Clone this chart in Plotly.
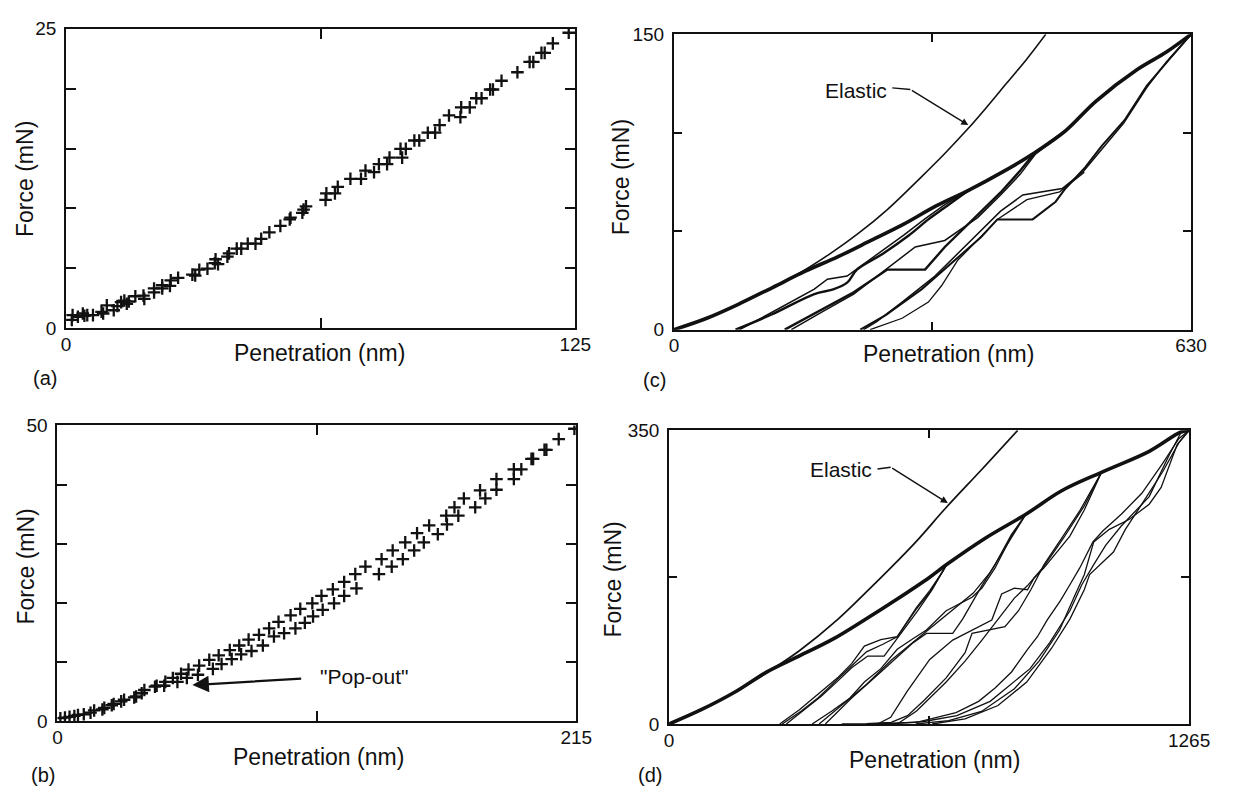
import plotly.graph_objects as go

W, H = 1237, 798

# ---------------- Panel (a) data ----------------
a_pen = [1.4,1.6,2.9,4.1,4.5,5.2,6.6,8.7,9.1,10.0,11.7,12.6,13.5,14.3,14.9,15.4,17.0,19.0,19.2,21.6,
         21.6,23.6,23.6,25.5,25.7,27.5,31.0,31.7,32.7,34.7,36.5,36.7,37.3,39.6,40.0,41.9,43.0,44.6,46.5,47.9,
         49.9,52.6,54.9,55.1,58.0,58.3,58.9,63.7,63.9,66.0,66.7,69.8,72.4,73.5,75.6,76.8,78.8,79.4,82.1,82.5,
         83.4,85.5,86.7,88.8,90.6,91.7,94.0,96.8,97.0,99.1,100.7,102.0,104.1,104.8,106.9,110.8,113.8,114.7,
         116.7,117.5,119.5,123.4]
a_force = [0.68,1.08,0.95,1.22,1.03,1.08,1.08,1.36,1.22,1.90,1.49,1.84,2.17,2.30,2.03,2.22,2.66,2.71,2.44,2.98,
           3.31,3.31,3.58,3.52,3.99,4.20,4.47,4.39,4.88,4.96,5.42,5.75,5.34,5.97,6.24,6.64,6.64,7.05,7.05,7.46,
           8.00,8.54,9.08,9.22,9.63,9.90,10.17,10.71,11.25,11.25,11.80,12.47,12.47,13.15,13.02,13.69,13.69,14.24,
           14.97,14.24,14.97,15.67,15.67,16.32,16.32,16.95,17.76,17.62,18.44,18.44,19.20,19.20,19.93,19.93,20.66,
           21.37,22.23,22.23,22.99,22.99,23.78,24.67]

# ---------------- Panel (b) data ----------------
b_pen = [1.2,3.1,5.0,7.0,8.5,10.9,13.7,15.2,18.6,19.4,22.5,23.3,26.4,27.6,31.8,32.6,34.9,36.0,40.4,41.1,
         44.2,44.7,47.8,49.7,51.2,53.6,54.3,58.2,58.7,62.9,64.4,66.8,68.0,71.4,72.2,75.3,76.1,79.2,80.4,83.5,
         85.1,87.7,89.7,91.6,93.9,96.6,98.6,100.6,102.5,105.6,105.9,109.4,109.9,114.1,114.6,118.8,118.8,123.4,
         123.9,127.6,133.2,134.3,138.5,138.9,143.1,144.1,147.8,149.0,151.8,154.0,157.6,161.1,161.4,164.5,166.1,
         168.4,173.1,175.1,177.3,181.9,181.9,189.1,189.1,192.2,196.4,197.1,201.8,202.6,207.7,214.2]
b_force = [0.55,0.66,0.77,0.93,1.10,1.21,1.48,1.86,2.03,2.30,2.74,2.96,3.40,3.67,4.06,4.22,4.77,5.32,5.87,6.03,
           6.03,6.69,7.35,6.69,8.06,7.35,8.77,7.89,9.43,10.42,8.88,11.18,9.70,12.06,10.53,12.83,11.35,13.82,11.90,
           14.64,12.83,15.73,14.36,16.83,14.91,17.93,15.73,19.02,16.67,19.96,17.76,21.22,18.86,22.31,19.96,23.57,
           21.22,24.89,22.48,26.15,24.89,27.41,26.15,28.89,27.41,30.26,28.89,31.80,30.26,33.11,31.63,34.76,33.28,
           36.18,34.76,37.67,36.18,39.04,37.67,40.95,39.14,42.60,40.95,42.60,44.35,44.35,45.89,45.89,47.70,49.45]

# ---------------- Panel (c) data ----------------
c_elastic_pen = [0, 40, 80, 120, 150, 190, 225, 260, 300, 330, 357, 380, 405, 430, 453]
c_elastic_force = [0, 5.8, 13.2, 21.4, 28, 38.5, 49, 61, 77, 89.5, 101.5, 112.5, 125, 137.5, 150]
c_load_pen = [0, 40, 80, 120, 160, 200, 240, 280, 320, 360, 400, 440, 477, 514, 564, 600, 630]
c_load_force = [0, 5.8, 13.2, 21.4, 29.7, 37.1, 45.3, 53.6, 63, 71, 80, 90, 101, 116, 132, 141, 150]
c_cyc1_load_pen = [75, 119, 171, 195, 211, 223, 255, 286, 310, 330, 360]
c_cyc1_load_force = [0, 7.7, 18.1, 20.6, 23.9, 30.5, 38.7, 47.8, 56, 62, 71]
c_cyc1_unload_pen = [360, 330, 305, 280, 250, 223, 211, 187, 171, 119, 80]
c_cyc1_unload_force = [71, 63.5, 56, 48, 39, 31, 27.2, 25.6, 20.6, 8.7, 0]
c_cyc2_load_pen = [135, 179, 219, 260, 306, 330, 370, 398, 422, 440, 477]
c_cyc2_load_force = [0, 9.9, 19, 30.5, 30.5, 42, 58.5, 69.7, 80.8, 90, 101]
c_cyc2_unload_pen = [477, 440, 422, 398, 370, 330, 294, 260, 219, 179, 143]
c_cyc2_unload_force = [101, 89, 79, 68.4, 56.9, 45.3, 42, 31.3, 18.1, 8.7, 0]
c_cyc3_load_pen = [227, 258, 302, 342, 374, 394, 437, 465, 477, 501, 521, 549, 576, 605, 630]
c_cyc3_load_force = [0, 7.4, 20.6, 35.4, 46.9, 56, 56, 65, 71.7, 82.4, 93.2, 106.4, 123.8, 138, 150]
c_cyc3_unload_pen = [630, 600, 576, 548, 520, 498, 473, 425, 398, 374, 350, 318, 278, 247, 231]
c_cyc3_unload_force = [150, 136, 123, 105, 91, 80, 71.7, 68.4, 60.2, 50.3, 40.4, 27.2, 14, 4.1, 0]
c_cyc3_reload_pen = [239, 278, 310, 326, 346, 358, 394, 430, 470, 500]
c_cyc3_reload_force = [0, 5.8, 14, 22.3, 35.4, 40.4, 56, 66, 70, 80]

# ---------------- Panel (d) data ----------------
d_elastic_pen = [0, 78, 158, 237, 316, 411, 506, 539, 602, 674, 760, 848]
d_elastic_force = [0, 17, 37.5, 61, 87, 125, 170, 186, 218, 258, 303, 350]
d_load_pen = [0, 78, 158, 237, 317, 396, 475, 555, 634, 675, 771, 868, 955, 1052, 1168, 1245, 1265]
d_load_force = [0, 17, 37.5, 61.9, 81.2, 100.5, 124, 149, 175, 190, 222, 250, 278, 300, 325, 348, 350]
d_cyc1_a_pen = [675, 666, 634, 602, 555, 515, 475, 444, 412, 356, 317, 269]
d_cyc1_a_force = [190, 182, 159, 139, 104, 100.6, 92.8, 72, 56, 33, 17, 0]
d_cyc1_b_pen = [285, 330, 370, 412, 444, 475, 483, 523, 547, 570, 605, 640, 668, 675]
d_cyc1_b_force = [0, 17, 33, 52, 67, 78, 81, 81, 97, 112, 135, 160, 183, 190]
d_cyc1_c_pen = [275, 320, 362, 412, 450, 480, 520, 555, 600, 634, 675]
d_cyc1_c_force = [0, 15, 31, 54, 71, 86, 95, 104, 136, 157, 190]
d_cyc2_a_pen = [348, 396, 440, 475, 515, 555, 594, 626, 674, 737, 761, 793, 833, 868]
d_cyc2_a_force = [0, 15.5, 31, 50, 66, 89, 102, 112, 135, 151, 162, 186, 224, 250]
d_cyc2_b_pen = [380, 444, 515, 560, 594, 626, 690, 714, 737, 761, 793, 833, 868]
d_cyc2_b_force = [0, 31, 62, 82, 97, 108, 108, 125, 145, 165, 190, 226, 250]
d_cyc2_c_pen = [365, 420, 480, 540, 600, 650, 700, 740, 780, 820, 850, 868]
d_cyc2_c_force = [0, 22, 47, 76, 100, 120, 140, 156, 180, 212, 236, 250]
d_cyc3_a_pen = [507, 539, 579, 634, 690, 737, 785, 809, 840, 872, 888, 912, 975, 1010, 1052]
d_cyc3_a_force = [0, 8, 39, 77, 100, 112, 124, 155, 162, 160, 174, 186, 224, 255, 300]
d_cyc3_b_pen = [420, 480, 540, 580, 620, 674, 720, 737, 817, 850, 880, 912, 960, 1000, 1052]
d_cyc3_b_force = [0, 0.5, 2, 10, 28, 55, 85, 108, 116, 135, 160, 190, 225, 255, 300]
d_cyc3_c_pen = [555, 602, 674, 720, 761, 800, 840, 872, 912, 960, 1010, 1052]
d_cyc3_c_force = [0, 15.5, 50, 75, 100, 125, 150, 165, 188, 222, 260, 300]
d_cyc4a_pen = [490, 560, 602, 698, 753, 793, 833, 872, 896, 920, 952, 975, 999, 1031, 1055, 1100, 1150, 1200, 1240, 1265]
d_cyc4a_force = [0, 1, 2, 13.5, 27, 43, 62, 89, 104, 124, 147, 166, 186, 217, 230, 250, 275, 310, 340, 350]
d_cyc4b_pen = [530, 620, 700, 781, 878, 926, 975, 1004, 1033, 1062, 1100, 1168, 1217, 1246, 1265]
d_cyc4b_force = [0, 3, 10, 27, 66, 97, 135, 166, 190, 213, 236, 271, 321, 348, 350]
d_cyc4c_pen = [600, 680, 760, 840, 900, 950, 984, 1010, 1033, 1071, 1120, 1168, 1197, 1236, 1265]
d_cyc4c_force = [0, 4, 15, 42, 75, 112, 150, 178, 217, 232, 244, 262, 282, 333, 350]
d_cyc4d_pen = [640, 720, 800, 870, 930, 975, 1010, 1023, 1081, 1110, 1150, 1200, 1240, 1265]
d_cyc4d_force = [0, 6, 22, 50, 90, 125, 160, 178, 205, 232, 262, 300, 335, 350]

# Axis extents and tick marks
a_xmax, a_ymax = 125, 25
b_xmax, b_ymax = 215, 50
c_xmax, c_ymax = 630, 150
d_xmax, d_ymax = 1265, 350
a_xticks, a_yticks = [0, 62.5, 125], [0, 5, 10, 15, 20, 25]
b_xticks, b_yticks = [0, 107.5, 215], [0, 10, 20, 30, 40, 50]
c_xticks, c_yticks = [0, 315, 630], [0, 50, 100, 150]
d_xticks, d_yticks = [0, 632.5, 1265], [0, 175, 350]

FONT = "Liberation Sans, Arial, Helvetica, sans-serif"
BLACK = "#111111"

fig = go.Figure()

def marks(x, y, xa, ya):
    fig.add_trace(go.Scatter(x=x, y=y, mode="markers", xaxis=xa, yaxis=ya,
                             marker=dict(symbol="cross-thin", size=9,
                                         line=dict(width=2.3, color=BLACK), color=BLACK),
                             hoverinfo="skip", showlegend=False))

def curve(x, y, xa, ya, w=1.2, shape="linear"):
    fig.add_trace(go.Scatter(x=x, y=y, mode="lines", xaxis=xa, yaxis=ya,
                             line=dict(width=w, color=BLACK, shape=shape),
                             hoverinfo="skip", showlegend=False))

marks(a_pen, a_force, "x", "y")
marks(b_pen, b_force, "x3", "y3")

curve(c_elastic_pen, c_elastic_force, "x2", "y2", 1.6, "spline")
curve(c_cyc1_load_pen, c_cyc1_load_force, "x2", "y2", 2.4, "spline")
curve(c_cyc1_unload_pen, c_cyc1_unload_force, "x2", "y2", 1.5)
curve(c_cyc2_load_pen, c_cyc2_load_force, "x2", "y2", 2.4)
curve(c_cyc2_unload_pen, c_cyc2_unload_force, "x2", "y2", 1.5)
curve(c_cyc3_load_pen, c_cyc3_load_force, "x2", "y2", 2.0)
curve(c_cyc3_unload_pen, c_cyc3_unload_force, "x2", "y2", 1.5)
curve(c_cyc3_reload_pen, c_cyc3_reload_force, "x2", "y2", 1.3)
curve(c_load_pen, c_load_force, "x2", "y2", 3.6, "spline")

curve(d_elastic_pen, d_elastic_force, "x4", "y4", 1.7, "spline")
for xs, ys in [(d_cyc1_a_pen, d_cyc1_a_force), (d_cyc1_b_pen, d_cyc1_b_force), (d_cyc1_c_pen, d_cyc1_c_force),
               (d_cyc2_a_pen, d_cyc2_a_force), (d_cyc2_b_pen, d_cyc2_b_force), (d_cyc2_c_pen, d_cyc2_c_force),
               (d_cyc3_a_pen, d_cyc3_a_force), (d_cyc3_b_pen, d_cyc3_b_force), (d_cyc3_c_pen, d_cyc3_c_force),
               (d_cyc4a_pen, d_cyc4a_force), (d_cyc4b_pen, d_cyc4b_force), (d_cyc4c_pen, d_cyc4c_force),
               (d_cyc4d_pen, d_cyc4d_force)]:
    curve(xs, ys, "x4", "y4", 1.3)
curve(d_load_pen, d_load_force, "x4", "y4", 3.6, "spline")

# panel geometry in pixels: (left, right, top, bottom)
geo = {
    "a": (62.4, 582.5, 19.3, 326.7),
    "c": (683.3, 1211.5, 25.0, 328.3),
    "b": (53.6, 583.6, 426.7, 730.7),
    "d": (678.4, 1209.5, 431.7, 733.3),
}

def xdom(p):
    l, r, t, b = geo[p]
    return [l / W, r / W]

def ydom(p):
    l, r, t, b = geo[p]
    return [1 - b / H, 1 - t / H]

def labels(vals):
    return [str(v) if i in (0, len(vals) - 1) else "" for i, v in enumerate(vals)]

def axis(dom, rng, ticks, anchor, tlen, standoff):
    return dict(domain=dom, range=rng, tickmode="array", tickvals=ticks, ticktext=labels(ticks),
                showline=True, linewidth=2, linecolor=BLACK, mirror="ticks", ticks="inside",
                ticklen=tlen, tickwidth=2, tickcolor=BLACK, showgrid=False, zeroline=False,
                tickfont=dict(family=FONT, size=19, color=BLACK), anchor=anchor, fixedrange=True,
                ticklabelstandoff=standoff)

fig.update_layout(
    width=W, height=H, margin=dict(l=0, r=0, t=0, b=0),
    paper_bgcolor="white", plot_bgcolor="white", showlegend=False,
    xaxis=axis(xdom("a"), [0, a_xmax], a_xticks, "y", 10, -2),
    yaxis=axis(ydom("a"), [0, a_ymax], a_yticks, "x", 10, 4),
    xaxis2=axis(xdom("c"), [0, c_xmax], c_xticks, "y2", 8, -2),
    yaxis2=axis(ydom("c"), [0, c_ymax], c_yticks, "x2", 8, 4),
    xaxis3=axis(xdom("b"), [0, b_xmax], b_xticks, "y3", 10, -2),
    yaxis3=axis(ydom("b"), [0, b_ymax], b_yticks, "x3", 10, 4),
    xaxis4=axis(xdom("d"), [0, d_xmax], d_xticks, "y4", 8, -2),
    yaxis4=axis(ydom("d"), [0, d_ymax], d_yticks, "x4", 8, 4),
)

def ptext(text, px, py, size=23, angle=0, xanchor="center"):
    fig.add_annotation(text=text, x=px / W, y=1 - py / H, xref="paper", yref="paper",
                       showarrow=False, textangle=angle, xanchor=xanchor, yanchor="middle",
                       font=dict(family=FONT, size=size, color=BLACK))

# axis titles and panel letters
ptext("Penetration (nm)", 321.5, 352.7)
ptext("Force (mN)", 21, 174, angle=-90)
ptext("(a)", 41, 378, size=20)
ptext("Penetration (nm)", 963.6, 353)
ptext("Force (mN)", 630, 172, angle=-90)
ptext("(c)", 663, 380, size=20)
ptext("Penetration (nm)", 320.7, 767.5)
ptext("Force (mN)", 21, 572, angle=-90)
ptext("(b)", 38.5, 786, size=20)
ptext("Penetration (nm)", 949.6, 770)
ptext("Force (mN)", 621, 585, angle=-90)
ptext("(d)", 659, 786, size=20)

def dtext(text, x, y, xa, ya, xanchor):
    fig.add_annotation(text=text, x=x, y=y, xref=xa, yref=ya, showarrow=False,
                       xanchor=xanchor, yanchor="middle",
                       font=dict(family=FONT, size=21, color=BLACK))

def arrow(x0, y0, x1, y1, xa, ya, head=2, size=1.0, width=1.4):
    fig.add_annotation(text="", x=x1, y=y1, ax=x0, ay=y0, xref=xa, yref=ya, axref=xa, ayref=ya,
                       showarrow=True, arrowhead=head, arrowsize=size, arrowwidth=width,
                       arrowcolor=BLACK, standoff=0, startstandoff=0)

def seg(x0, y0, x1, y1, xa, ya, width=1.4):
    fig.add_shape(type="line", x0=x0, y0=y0, x1=x1, y1=y1, xref=xa, yref=ya,
                  line=dict(color=BLACK, width=width))

# "Elastic" labels with arrows
dtext("Elastic", 261.7, 121.6, "x2", "y2", "right")
seg(266, 122.8, 288, 122.0, "x2", "y2")
arrow(288, 122.0, 358.6, 103.9, "x2", "y2")
dtext("Elastic", 499.2, 303.2, "x4", "y4", "right")
seg(507, 304, 539, 306, "x4", "y4")
arrow(539, 306, 677.9, 263.4, "x4", "y4")

# "Pop-out" label with arrow
dtext('"Pop-out"', 107.9, 7.6, "x3", "y3", "left")
arrow(101.6, 7.24, 55.9, 6.15, "x3", "y3", head=2, size=1.5, width=2.2)

fig.write_html("out.html")
